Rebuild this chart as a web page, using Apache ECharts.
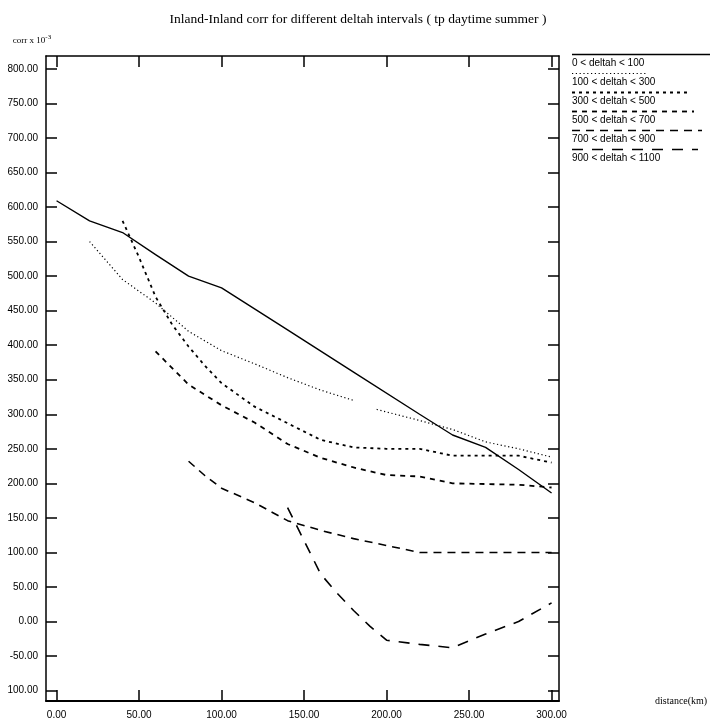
<!DOCTYPE html>
<html>
<head>
<meta charset="utf-8">
<script src="https://cdn.jsdelivr.net/npm/echarts@6/dist/echarts.min.js"></script>
<style>
  html, body { margin: 0; padding: 0; background: #fff; }
  #chart { width: 716px; height: 724px; }
</style>
</head>
<body>
<div id="chart"></div>
<script>
// deltah classes and correlation (x 10^-3) against distance (km)
var seriesNames = [
  '0 < deltah < 100',
  '100 < deltah < 300',
  '300 < deltah < 500',
  '500 < deltah < 700',
  '700 < deltah < 900',
  '900 < deltah < 1100'
];
var xTicks = [0, 50, 100, 150, 200, 250, 300];
var yTicks = [-100, -50, 0, 50, 100, 150, 200, 250, 300, 350, 400, 450, 500, 550, 600, 650, 700, 750, 800];

var d100 = [[0, 609], [20, 580], [40, 563], [60, 531], [80, 500], [100, 483], [140, 422], [180, 361],
  [220, 300], [240, 270], [260, 252], [280, 220], [300, 186]];
var d300 = [[20, 550], [40, 495], [60, 461], [80, 420], [100, 392], [120, 373], [140, 353], [160, 335],
  [180, 320], [186, '-'], [194, 307], [220, 291], [240, 278], [260, 260], [280, 250], [300, 238]];
var d500 = [[40, 580], [50, 527], [60, 470], [70, 430], [80, 398], [90, 370], [100, 345], [120, 311],
  [140, 287], [160, 263], [180, 252], [200, 250], [220, 250], [240, 240], [260, 240], [280, 240], [300, 230]];
var d700 = [[60, 391], [80, 343], [100, 313], [120, 288], [140, 257], [160, 237], [180, 223], [200, 212],
  [220, 210], [240, 200], [260, 199], [280, 198], [300, 194]];
var d900 = [[80, 232], [90, 211], [100, 193], [120, 172], [140, 146], [160, 132], [180, 120], [200, 110],
  [220, 100], [240, 100], [260, 100], [280, 100], [300, 100]];
var d1100 = [[140, 165], [150, 117], [160, 69], [170, 41], [180, 16], [190, -7], [200, -27], [220, -33],
  [240, -38], [260, -18], [280, 0], [300, 27]];

(function () {
  var ink = '#000';
  var tickFont = { color: ink, fontSize: 10, fontFamily: 'Liberation Sans' };
  var allData = [d100, d300, d500, d700, d900, d1100];
  // line look per class: width, dash
  var dashes = ['solid', [1.2, 2.6], [3, 4], [5, 5], [8, 6], [11, 9]];
  var widths = [1.4, 1.2, 1.8, 1.8, 1.6, 1.6];
  var legendEnd = [710, 648, 690, 694, 702, 698];

  var chart = echarts.init(document.getElementById('chart'), null, { renderer: 'canvas' });

  var tickStyle = { color: ink, width: 1.5 };
  function fmt(v) { return v === -100 ? '100.00' : v.toFixed(2); }

  var series = allData.map(function (d, i) {
    return {
      name: seriesNames[i],
      type: 'line',
      data: d,
      showSymbol: false,
      symbol: 'none',
      connectNulls: false,
      lineStyle: { color: ink, width: widths[i], type: dashes[i] },
      silent: true
    };
  });

  // legend: a line sample over each label
  var graphic = [];
  seriesNames.forEach(function (name, i) {
    var ty = 63 + i * 19;
    graphic.push({
      type: 'line',
      shape: { x1: 572, y1: ty - 8.5, x2: legendEnd[i], y2: ty - 8.5 },
      style: { stroke: ink, lineWidth: widths[i], lineDash: dashes[i] === 'solid' ? null : dashes[i] }
    });
    graphic.push({
      type: 'text',
      x: 572, y: ty,
      style: { text: name, fill: ink, font: '10px "Liberation Sans"', verticalAlign: 'middle' }
    });
  });

  chart.setOption({
    animation: false,
    backgroundColor: '#fff',
    title: {
      text: 'Inland-Inland corr for different deltah intervals ( tp daytime summer )',
      left: 'center',
      top: 7,
      textStyle: { color: ink, fontSize: 13.5, fontWeight: 'normal', fontFamily: 'Liberation Serif' }
    },
    grid: { left: 46, right: 157, top: 56, bottom: 23 },
    xAxis: [{
      type: 'value',
      position: 'bottom',
      min: -6.4,
      max: 304.5,
      name: 'distance(km)',
      nameLocation: 'end',
      nameGap: 96,
      nameTextStyle: { color: ink, fontSize: 10, fontFamily: 'Liberation Serif', padding: [10, 0, 0, 0] },
      axisLine: { onZero: false, lineStyle: { color: ink, width: 2 } },
      axisTick: { inside: true, length: 11, customValues: xTicks, lineStyle: tickStyle },
      axisLabel: Object.assign({ customValues: xTicks, formatter: fmt, margin: 9 }, tickFont),
      splitLine: { show: false }
    }, {
      type: 'value',
      position: 'top',
      min: -6.4,
      max: 304.5,
      axisLine: { onZero: false, lineStyle: { color: ink, width: 1.5 } },
      axisTick: { inside: true, length: 11, customValues: xTicks, lineStyle: tickStyle },
      axisLabel: { show: false },
      splitLine: { show: false }
    }],
    yAxis: [{
      type: 'value',
      position: 'left',
      min: -115,
      max: 818.5,
      name: 'corr x 10{sup|-3}',
      nameLocation: 'end',
      nameGap: 9,
      nameTextStyle: {
        color: ink, fontSize: 9, fontFamily: 'Liberation Serif', align: 'center', padding: [0, 28, 0, 0],
        rich: { sup: { fontSize: 7, verticalAlign: 'top', padding: [0, 0, 6, 0], fontFamily: 'Liberation Serif' } }
      },
      axisLine: { onZero: false, lineStyle: { color: ink, width: 1.5 } },
      axisTick: { inside: true, length: 11, customValues: yTicks, lineStyle: tickStyle },
      axisLabel: Object.assign({ customValues: yTicks, formatter: fmt, margin: 8 }, tickFont),
      splitLine: { show: false }
    }, {
      type: 'value',
      position: 'right',
      min: -115,
      max: 818.5,
      axisLine: { onZero: false, lineStyle: { color: ink, width: 1.5 } },
      axisTick: { inside: true, length: 11, customValues: yTicks, lineStyle: tickStyle },
      axisLabel: { show: false },
      splitLine: { show: false }
    }],
    graphic: graphic,
    series: series
  });
})();
</script>
</body>
</html>
